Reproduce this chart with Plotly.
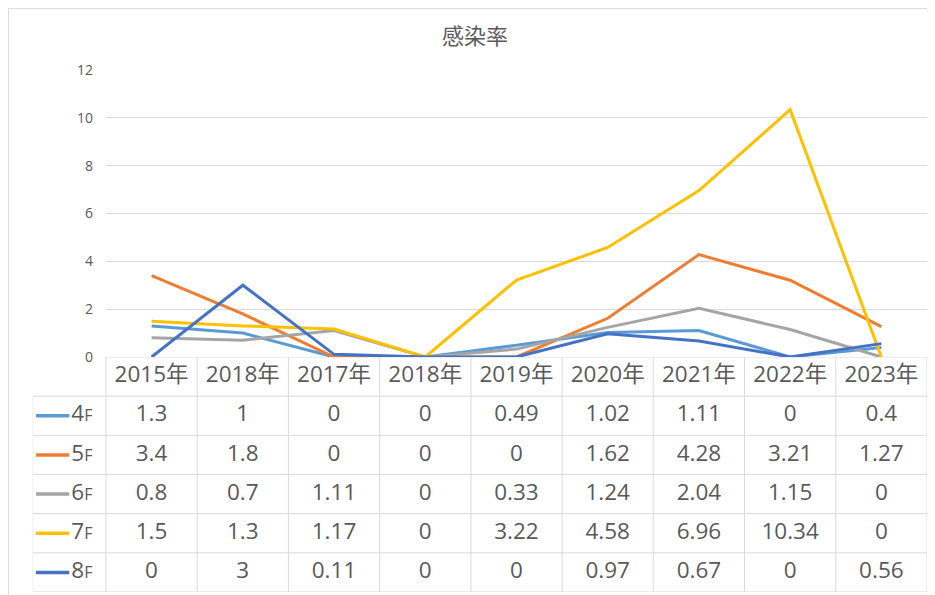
import plotly.graph_objects as go

categories = ["2015年", "2018年", "2017年", "2018年", "2019年", "2020年", "2021年", "2022年", "2023年"]
series_names = ["4F", "5F", "6F", "7F", "8F"]
v_4F = [1.3, 1, 0, 0, 0.49, 1.02, 1.11, 0, 0.4]
v_5F = [3.4, 1.8, 0, 0, 0, 1.62, 4.28, 3.21, 1.27]
v_6F = [0.8, 0.7, 1.11, 0, 0.33, 1.24, 2.04, 1.15, 0]
v_7F = [1.5, 1.3, 1.17, 0, 3.22, 4.58, 6.96, 10.34, 0]
v_8F = [0, 3, 0.11, 0, 0, 0.97, 0.67, 0, 0.56]
colors = ["#5B9BD5", "#ED7D31", "#A5A5A5", "#FFC000", "#4472C4"]
values = [v_4F, v_5F, v_6F, v_7F, v_8F]

W, H = 935, 595
OFF = 8  # page body margin offset


def fx(px):
    return (px - OFF) / W


def fy(py):
    return 1 - (py - OFF) / H


FONT = "Open Sans, Noto Sans CJK JP, sans-serif"
TXT = "#595959"
GRID = "#D9D9D9"

fig = go.Figure()
xi = list(range(len(categories)))

# main lines
for name, vals, col in zip(series_names, values, colors):
    fig.add_trace(go.Scatter(x=xi, y=vals, mode="lines", name=name,
                             line=dict(color=col, width=3), xaxis="x", yaxis="y",
                             hoverinfo="skip"))

# data table: header
fig.add_trace(go.Scatter(x=xi, y=[0] * len(xi), mode="text", text=categories,
                         textfont=dict(size=22.5, color=TXT, family=FONT),
                         xaxis="x2", yaxis="y2", hoverinfo="skip"))
# table rows
LEFT = -1.303
for r, (name, vals, col) in enumerate(zip(series_names, values, colors), start=1):
    fig.add_trace(go.Scatter(x=xi, y=[r] * len(xi), mode="text",
                             text=[f"{v:g}" for v in vals],
                             textfont=dict(size=22.5, color=TXT, family=FONT),
                             xaxis="x2", yaxis="y2", hoverinfo="skip"))
    fig.add_trace(go.Scatter(x=[-1.267, -0.902], y=[r, r], mode="lines",
                             line=dict(color=col, width=3.5),
                             xaxis="x2", yaxis="y2", hoverinfo="skip"))
    fig.add_trace(go.Scatter(x=[-0.88], y=[r], mode="text",
                             text=[f"{name[:-1]}<span style='font-size:16px'>{name[-1]}</span>"],
                             textposition="middle right",
                             textfont=dict(size=22.5, color=TXT, family=FONT),
                             xaxis="x2", yaxis="y2", hoverinfo="skip"))

shapes = []
n = len(categories)
nrows = len(series_names)
# vertical lines
for k in range(n + 1):
    shapes.append(dict(type="line", xref="x2", yref="y2", x0=k - 0.5, x1=k - 0.5,
                       y0=-0.5, y1=nrows + 0.5, line=dict(color=GRID, width=1)))
shapes.append(dict(type="line", xref="x2", yref="y2", x0=LEFT, x1=LEFT,
                   y0=0.5, y1=nrows + 0.5, line=dict(color=GRID, width=1)))
# horizontal lines
shapes.append(dict(type="line", xref="x2", yref="y2", x0=-0.5, x1=n - 0.5,
                   y0=-0.5, y1=-0.5, line=dict(color=GRID, width=1)))
for r in range(nrows + 1):
    shapes.append(dict(type="line", xref="x2", yref="y2", x0=LEFT, x1=n - 0.5,
                       y0=r + 0.5, y1=r + 0.5, line=dict(color=GRID, width=1)))
# outer chart border
shapes.append(dict(type="rect", xref="paper", yref="paper", x0=0.0005, x1=1.02,
                   y0=-0.02, y1=fy(7) if fy(7) < 1 else 0.999, line=dict(color=GRID, width=1),
                   layer="below"))

fig.update_layout(
    width=W, height=H,
    margin=dict(l=0, r=0, t=0, b=0, pad=0, autoexpand=False),
    paper_bgcolor="white", plot_bgcolor="rgba(0,0,0,0)",
    showlegend=False,
    hovermode=False,
    font=dict(family=FONT, color=TXT),
    title=dict(text="感染率", x=fx(475), xanchor="center", y=fy(36), yanchor="middle",
               font=dict(size=22, color=TXT, family="Noto Sans CJK JP, sans-serif")),
    xaxis=dict(domain=[fx(106), fx(927)], range=[-0.5, n - 0.5], showticklabels=False,
               showgrid=False, zeroline=False, showline=False, anchor="y", fixedrange=True,
               automargin=False),
    yaxis=dict(domain=[fy(357), fy(70)], range=[0, 12], dtick=2,
               gridcolor=GRID, gridwidth=1, zeroline=False, showline=False,
               tickfont=dict(size=14, color=TXT, family=FONT), ticklabelstandoff=12,
               anchor="x", fixedrange=True, automargin=False),
    xaxis2=dict(domain=[fx(32.7), fx(927)], range=[LEFT, n - 0.5], visible=False,
                anchor="y2", fixedrange=True, automargin=False),
    yaxis2=dict(domain=[fy(592), fy(357)], range=[nrows + 0.5, -0.5], visible=False,
                anchor="x2", fixedrange=True, automargin=False),
    shapes=shapes,
)

fig.write_html("out.html")
